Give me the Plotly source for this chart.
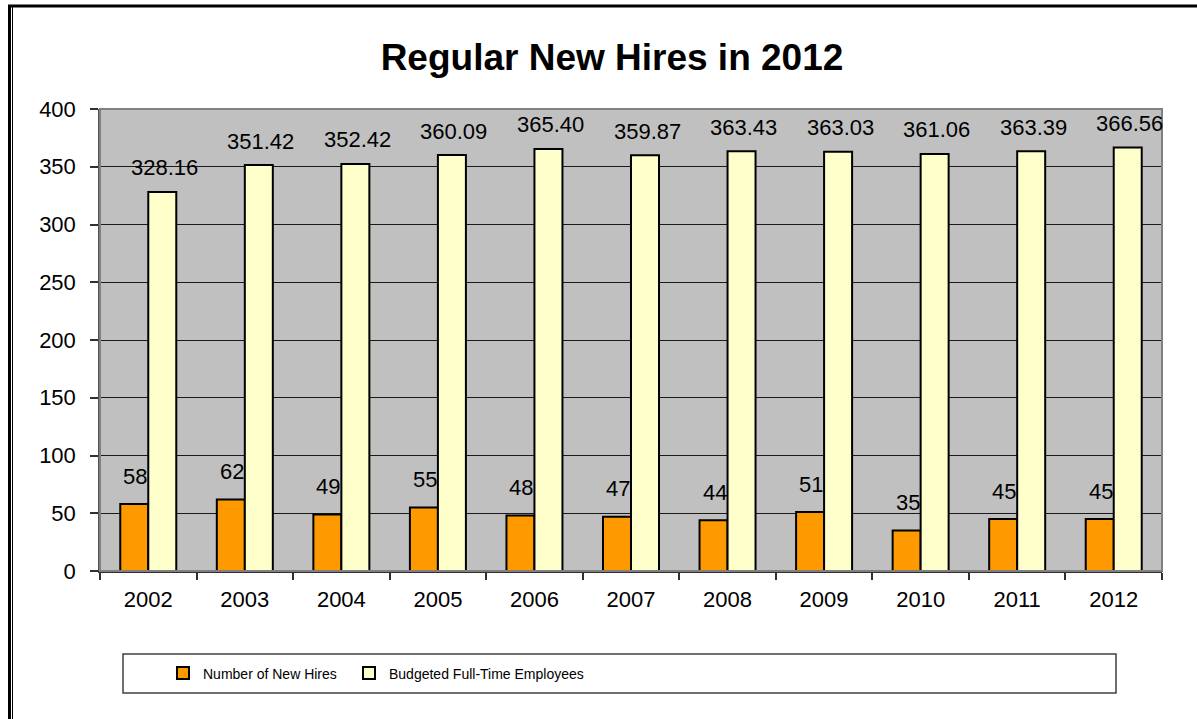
import plotly.graph_objects as go

years = ["2002", "2003", "2004", "2005", "2006", "2007", "2008", "2009", "2010", "2011", "2012"]
new_hires = [58, 62, 49, 55, 48, 47, 44, 51, 35, 45, 45]
budgeted_fte = [328.16, 351.42, 352.42, 360.09, 365.40, 359.87, 363.43, 363.03, 361.06, 363.39, 366.56]
y_ticks = [0, 50, 100, 150, 200, 250, 300, 350, 400]

FONT = "Liberation Sans, Arial, sans-serif"
W, H = 1197, 719
L, R, T, B = 100, 35, 109, 148
PW, PH = W - L - R, H - T - B


def px_x(px):
    return (px - L) / PW


def px_y(py):
    return (H - B - py) / PH


fig = go.Figure()
fig.add_trace(go.Bar(
    name="Number of New Hires", x=years, y=new_hires, legend="legend",
    marker=dict(color="#FF9900", line=dict(color="black", width=2)),
))
fig.add_trace(go.Bar(
    name="Budgeted Full-Time Employees", x=years, y=budgeted_fte, legend="legend2",
    marker=dict(color="#FFFFCC", line=dict(color="black", width=2)),
))

annotations = []
for i, v in enumerate(new_hires):
    annotations.append(dict(x=i, y=v, xref="x", yref="y", text=str(v), showarrow=False,
                            xshift=-13, yshift=28, yanchor="middle",
                            font=dict(family=FONT, size=22, color="black")))
for i, v in enumerate(budgeted_fte):
    annotations.append(dict(x=i, y=v, xref="x", yref="y", text=f"{v:.2f}", showarrow=False,
                            xshift=16, yshift=24, yanchor="middle",
                            font=dict(family=FONT, size=22, color="black")))

shapes = [
    # plot-area border (gray)
    dict(type="rect", xref="paper", yref="paper", x0=0, x1=1, y0=0, y1=1,
         line=dict(color="#808080", width=2), layer="above"),
    # outer frame
    dict(type="line", xref="paper", yref="paper", x0=px_x(8), x1=px_x(1197), y0=px_y(6), y1=px_y(6),
         line=dict(color="black", width=3)),
    dict(type="line", xref="paper", yref="paper", x0=px_x(9.5), x1=px_x(9.5), y0=px_y(5), y1=px_y(730),
         line=dict(color="black", width=3)),
    dict(type="line", xref="paper", yref="paper", x0=px_x(12.5), x1=px_x(12.5), y0=px_y(6), y1=px_y(730),
         line=dict(color="black", width=1)),
    # legend box
    dict(type="rect", xref="paper", yref="paper", x0=px_x(123), x1=px_x(1116), y0=px_y(693), y1=px_y(654),
         line=dict(color="#404040", width=1.5)),
]

legend_common = dict(orientation="h", xanchor="left", yanchor="middle", y=px_y(673.5),
                     bgcolor="rgba(0,0,0,0)", borderwidth=0, itemwidth=30,
                     font=dict(family=FONT, size=14, color="black"))

fig.update_layout(
    width=W, height=H,
    margin=dict(l=L, r=R, t=T, b=B, pad=0),
    paper_bgcolor="white",
    plot_bgcolor="#C0C0C0",
    barmode="group", bargap=0.42, bargroupgap=0,
    title=dict(text="<b>Regular New Hires in 2012</b>", x=612 / W, xanchor="center",
               y=1 - 57 / H, yanchor="middle", yref="container",
               font=dict(family=FONT, size=37, color="black")),
    font=dict(family=FONT, color="black"),
    showlegend=True,
    legend=dict(x=px_x(163), **legend_common),
    legend2=dict(x=px_x(349), **legend_common),
    annotations=annotations,
    shapes=shapes,
)
fig.update_xaxes(
    type="category", range=[-0.5, len(years) - 0.5], autorange=False,
    showgrid=False, showline=True, linecolor="#303030", linewidth=1.5,
    ticks="outside", tickson="boundaries", ticklen=7, tickcolor="#303030", tickwidth=1.5,
    tickfont=dict(family=FONT, size=22, color="black"), ticklabelstandoff=8,
)
fig.update_yaxes(
    range=[0, 400], autorange=False, tickvals=y_ticks, showgrid=True, gridcolor="#1a1a1a", gridwidth=1,
    showline=True, linecolor="#505050", linewidth=1.5, zeroline=False,
    ticks="outside", ticklen=8, tickcolor="#303030", tickwidth=1.5,
    tickfont=dict(family=FONT, size=22, color="black"), ticklabelstandoff=10,
)

fig.write_html("out.html")
